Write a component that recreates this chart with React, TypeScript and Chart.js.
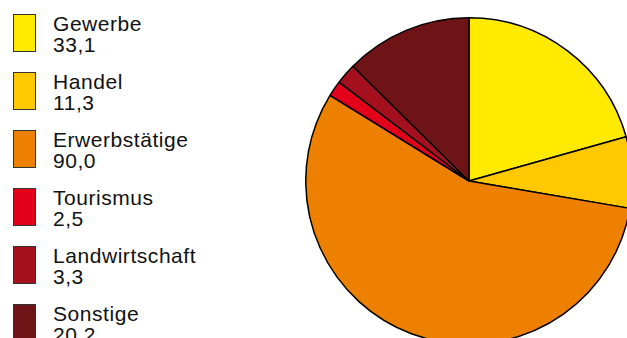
import React, { useEffect, useRef } from "react";
import { Chart, registerables } from "chart.js";

Chart.register(...registerables);

const categories = ["Gewerbe", "Handel", "Erwerbstätige", "Tourismus", "Landwirtschaft", "Sonstige"];
const values = [33.1, 11.3, 90.0, 2.5, 3.3, 20.2];
const colors = ["#FFEA00", "#FFC800", "#EE8000", "#E2001A", "#A5101E", "#6E1416"];

const fmt = (v: number) => v.toFixed(1).replace(".", ",");

export default function App() {
  const ref = useRef<HTMLCanvasElement | null>(null);

  useEffect(() => {
    if (!ref.current) return;
    const chart = new Chart(ref.current, {
      type: "pie",
      data: {
        labels: categories,
        datasets: [
          {
            data: values,
            backgroundColor: colors,
            borderColor: "#000000",
            borderWidth: 1.5,
          },
        ],
      },
      options: {
        responsive: false,
        animation: false,
        layout: { padding: 0 },
        plugins: {
          legend: { display: false },
          tooltip: { enabled: false },
        },
      },
    });
    return () => chart.destroy();
  }, []);

  return (
    <div
      style={{
        position: "fixed",
        left: 0,
        top: 0,
        width: 627,
        height: 338,
        overflow: "hidden",
        background: "#ffffff",
      }}
    >
      {categories.map((c, i) => (
        <div key={c}>
          <div
            style={{
              position: "absolute",
              left: 13,
              top: 14 + i * 58,
              width: 21,
              height: 36,
              background: colors[i],
              border: "1px solid #333",
            }}
          />
          <div
            style={{
              position: "absolute",
              left: 53,
              top: 13 + i * 58,
              fontFamily: "'Liberation Sans', Arial, sans-serif",
              fontSize: 21,
              letterSpacing: "0.55px",
              lineHeight: "21px",
              color: "#111",
              whiteSpace: "nowrap",
            }}
          >
            <div>{c}</div>
            <div>{fmt(values[i])}</div>
          </div>
        </div>
      ))}
      <canvas
        ref={ref}
        width={328}
        height={328}
        style={{ position: "absolute", left: 305, top: 17, width: 328, height: 328 }}
      />
    </div>
  );
}
